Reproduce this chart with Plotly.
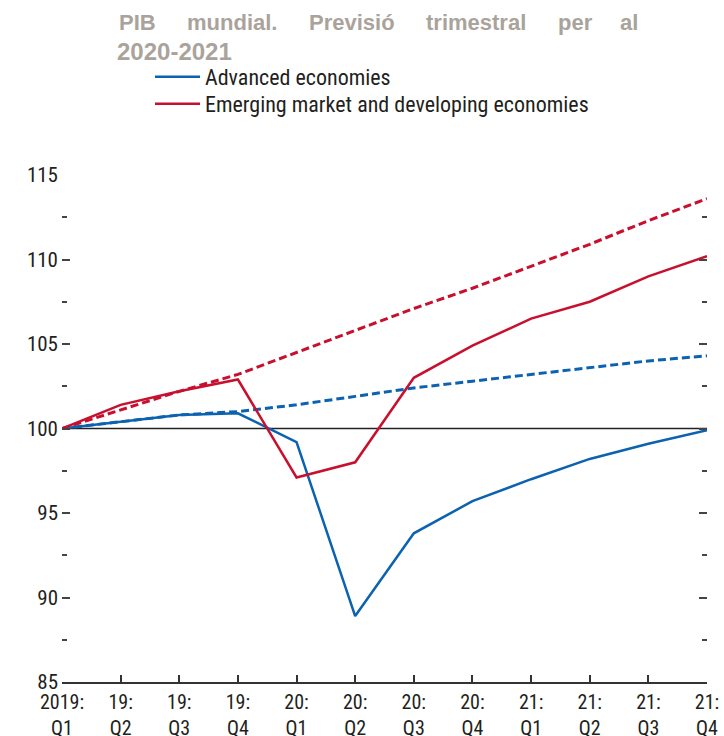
import plotly.graph_objects as go

quarters = ["2019:<br>Q1", "19:<br>Q2", "19:<br>Q3", "19:<br>Q4",
            "20:<br>Q1", "20:<br>Q2", "20:<br>Q3", "20:<br>Q4",
            "21:<br>Q1", "21:<br>Q2", "21:<br>Q3", "21:<br>Q4"]
xpos = list(range(len(quarters)))

advanced = [100, 100.4, 100.8, 100.9, 99.2, 88.9, 93.8, 95.7, 97.0, 98.2, 99.1, 99.9]
emerging = [100, 101.4, 102.2, 102.9, 97.1, 98.0, 103.0, 104.9, 106.5, 107.5, 109.0, 110.2]
advanced_pre = [100, 100.4, 100.8, 101.0, 101.4, 101.9, 102.4, 102.8, 103.2, 103.6, 104.0, 104.3]
emerging_pre = [100, 101.1, 102.2, 103.2, 104.5, 105.8, 107.1, 108.3, 109.6, 110.9, 112.3, 113.6]

yticks = [85, 90, 95, 100, 105, 110, 115]

BLUE = "#0b62b0"
RED = "#c8102e"
FONT = "Roboto Condensed, Liberation Sans, sans-serif"
TFONT = "Liberation Sans, Arial, sans-serif"
TXT = "#231f20"
TCOL = "#aaa39b"

fig = go.Figure()
fig.add_trace(go.Scatter(x=xpos, y=advanced_pre, mode="lines", showlegend=False,
                         line=dict(color=BLUE, width=3, dash="8px,4px"), hoverinfo="skip"))
fig.add_trace(go.Scatter(x=xpos, y=emerging_pre, mode="lines", showlegend=False,
                         line=dict(color=RED, width=3, dash="8px,4px"), hoverinfo="skip"))
fig.add_trace(go.Scatter(x=xpos, y=advanced, mode="lines", name="Advanced economies",
                         line=dict(color=BLUE, width=2.5), legend="legend"))
fig.add_trace(go.Scatter(x=xpos, y=emerging, mode="lines",
                         name="Emerging market and developing economies",
                         line=dict(color=RED, width=2.5), legend="legend2"))

fig.add_shape(type="line", xref="paper", x0=0, x1=1, yref="y", y0=100, y1=100,
              line=dict(color="#222222", width=1.3), layer="below")

W, H = 724, 736
PL, PR, PT, PB = 62, 707, 175, 682   # plot area in pixels
L, R, T, B = PL, W - PR, PT, H - PB
pw, ph = PR - PL, PB - PT

def px_x(p):
    return (p - PL) / pw

def px_y(p):
    return 1 + (PT - p) / ph

title_words = ["PIB", "mundial.", "Previsió", "trimestral", "per"]
title_left = [117, 185, 307, 424, 556]
for w, xl in zip(title_words, title_left):
    fig.add_annotation(text=w, xref="paper", yref="paper", x=px_x(xl), y=px_y(22),
                       xanchor="left", yanchor="middle", showarrow=False,
                       font=dict(family=TFONT, size=22, color=TCOL, weight="bold"))
fig.add_annotation(text="al", xref="paper", yref="paper", x=px_x(640), y=px_y(22),
                   xanchor="right", yanchor="middle", showarrow=False,
                   font=dict(family=TFONT, size=22, color=TCOL, weight="bold"))
fig.add_annotation(text="2020-2021", xref="paper", yref="paper", x=px_x(115), y=px_y(51),
                   xanchor="left", yanchor="middle", showarrow=False,
                   font=dict(family=TFONT, size=24, color=TCOL, weight="bold"))

leg_common = dict(xanchor="left", yanchor="middle", itemwidth=45,
                  font=dict(family=FONT, size=22, color=TXT),
                  bgcolor="rgba(0,0,0,0)")

fig.update_layout(
    width=W, height=H,
    margin=dict(l=L, r=R, t=T, b=B, autoexpand=False),
    paper_bgcolor="white", plot_bgcolor="white",
    font=dict(family=FONT, size=20, color=TXT),
    legend=dict(x=px_x(150), y=px_y(77), **leg_common),
    legend2=dict(x=px_x(150), y=px_y(104), **leg_common),
    xaxis=dict(range=[0, 11], tickmode="array", tickvals=xpos, ticktext=quarters,
               showgrid=False, zeroline=False, showline=True, linecolor="#333333",
               linewidth=1.5, ticks="inside", ticklen=7, tickwidth=1.5, automargin=False,
               ticklabelstandoff=1,
               tickcolor="#333333", tickfont=dict(family=FONT, size=20, color=TXT)),
    yaxis=dict(range=[85, 115], tickmode="array", tickvals=yticks,
               showgrid=False, zeroline=False, showline=False, automargin=False,
               ticks="inside", ticklen=8, tickwidth=1.5, tickcolor="#444444",
               mirror="ticks", ticklabelstandoff=3,
               minor=dict(dtick=2.5, tick0=85, ticks="inside", ticklen=5,
                          tickwidth=1.5, tickcolor="#444444", showgrid=False),
               tickfont=dict(family=FONT, size=21, color=TXT)),
)

fig.write_html("out.html", config={"displayModeBar": False},
               post_script="document.body.style.margin='0';document.body.style.overflow='hidden';")
